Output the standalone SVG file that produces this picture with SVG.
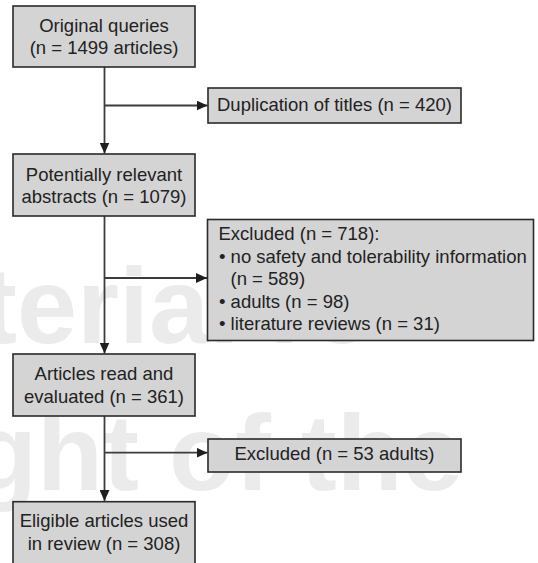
<svg xmlns="http://www.w3.org/2000/svg" width="538" height="563" viewBox="0 0 538 563">
  <style>
    .box { fill: #d4d4d5; stroke: #2a2a2a; stroke-width: 1.6; }
    .t { font-family: "Liberation Sans", Arial, Helvetica, sans-serif; font-size: 18.5px; fill: #222; }
    .c { text-anchor: middle; }
    .wm { font-family: "Liberation Sans", Arial, Helvetica, sans-serif; font-weight: bold; font-size: 108px; fill: #ebebeb; }
    .conn { stroke: #3c3c3c; stroke-width: 1.8; fill: none; }
  </style>
  <defs>
    <marker id="arr" markerUnits="userSpaceOnUse" markerWidth="11" markerHeight="10" refX="11" refY="5" orient="auto">
      <path d="M0,0 L11,5 L0,10 z" fill="#1e1e1e"/>
    </marker>
  </defs>
  <rect width="538" height="563" fill="#ffffff"/>
  <g id="watermark">
    <text class="wm" x="-19" y="343">terial re</text>
    <text class="wm" x="-29" y="490">ght of the</text>
  </g>
  <g id="connectors">
    <line class="conn" x1="104.5" y1="67" x2="104.5" y2="153.5" marker-end="url(#arr)"/>
    <line class="conn" x1="104.5" y1="105.5" x2="207.5" y2="105.5" marker-end="url(#arr)"/>
    <line class="conn" x1="104.5" y1="216" x2="104.5" y2="353.5" marker-end="url(#arr)"/>
    <line class="conn" x1="104.5" y1="278" x2="207" y2="278" marker-end="url(#arr)"/>
    <line class="conn" x1="104.5" y1="416" x2="104.5" y2="501" marker-end="url(#arr)"/>
    <line class="conn" x1="104.5" y1="452.7" x2="207.5" y2="452.7" marker-end="url(#arr)"/>
  </g>
  <g id="original-queries">
    <rect class="box" x="13" y="6" width="182" height="61"/>
    <text class="t c" x="104" y="31.7">Original queries</text>
    <text class="t c" x="104" y="54">(n = 1499 articles)</text>
  </g>
  <g id="duplication">
    <rect class="box" x="208" y="88" width="253" height="35"/>
    <text class="t c" x="334.5" y="110.5">Duplication of titles (n = 420)</text>
  </g>
  <g id="potentially-relevant">
    <rect class="box" x="13" y="154" width="182" height="62"/>
    <text class="t c" x="104" y="180.5">Potentially relevant</text>
    <text class="t c" x="104" y="203">abstracts (n = 1079)</text>
  </g>
  <g id="excluded-718">
    <rect class="box" x="207.5" y="219.5" width="326" height="121"/>
    <text class="t" x="218.5" y="240">Excluded (n = 718):</text>
    <text class="t" x="219" y="262.5">• no safety and tolerability information</text>
    <text class="t" x="230.5" y="285">(n = 589)</text>
    <text class="t" x="219" y="307.5">• adults (n = 98)</text>
    <text class="t" x="219" y="330">• literature reviews (n = 31)</text>
  </g>
  <g id="articles-read">
    <rect class="box" x="13" y="354" width="182" height="62"/>
    <text class="t c" x="104" y="380">Articles read and</text>
    <text class="t c" x="104" y="402.5">evaluated (n = 361)</text>
  </g>
  <g id="excluded-53">
    <rect class="box" x="208" y="439" width="253" height="33"/>
    <text class="t c" x="334.5" y="460">Excluded (n = 53 adults)</text>
  </g>
  <g id="eligible-articles">
    <rect class="box" x="13" y="501.7" width="182" height="70"/>
    <text class="t c" x="104" y="527">Eligible articles used</text>
    <text class="t c" x="104" y="549.5">in review (n = 308)</text>
  </g>
</svg>
